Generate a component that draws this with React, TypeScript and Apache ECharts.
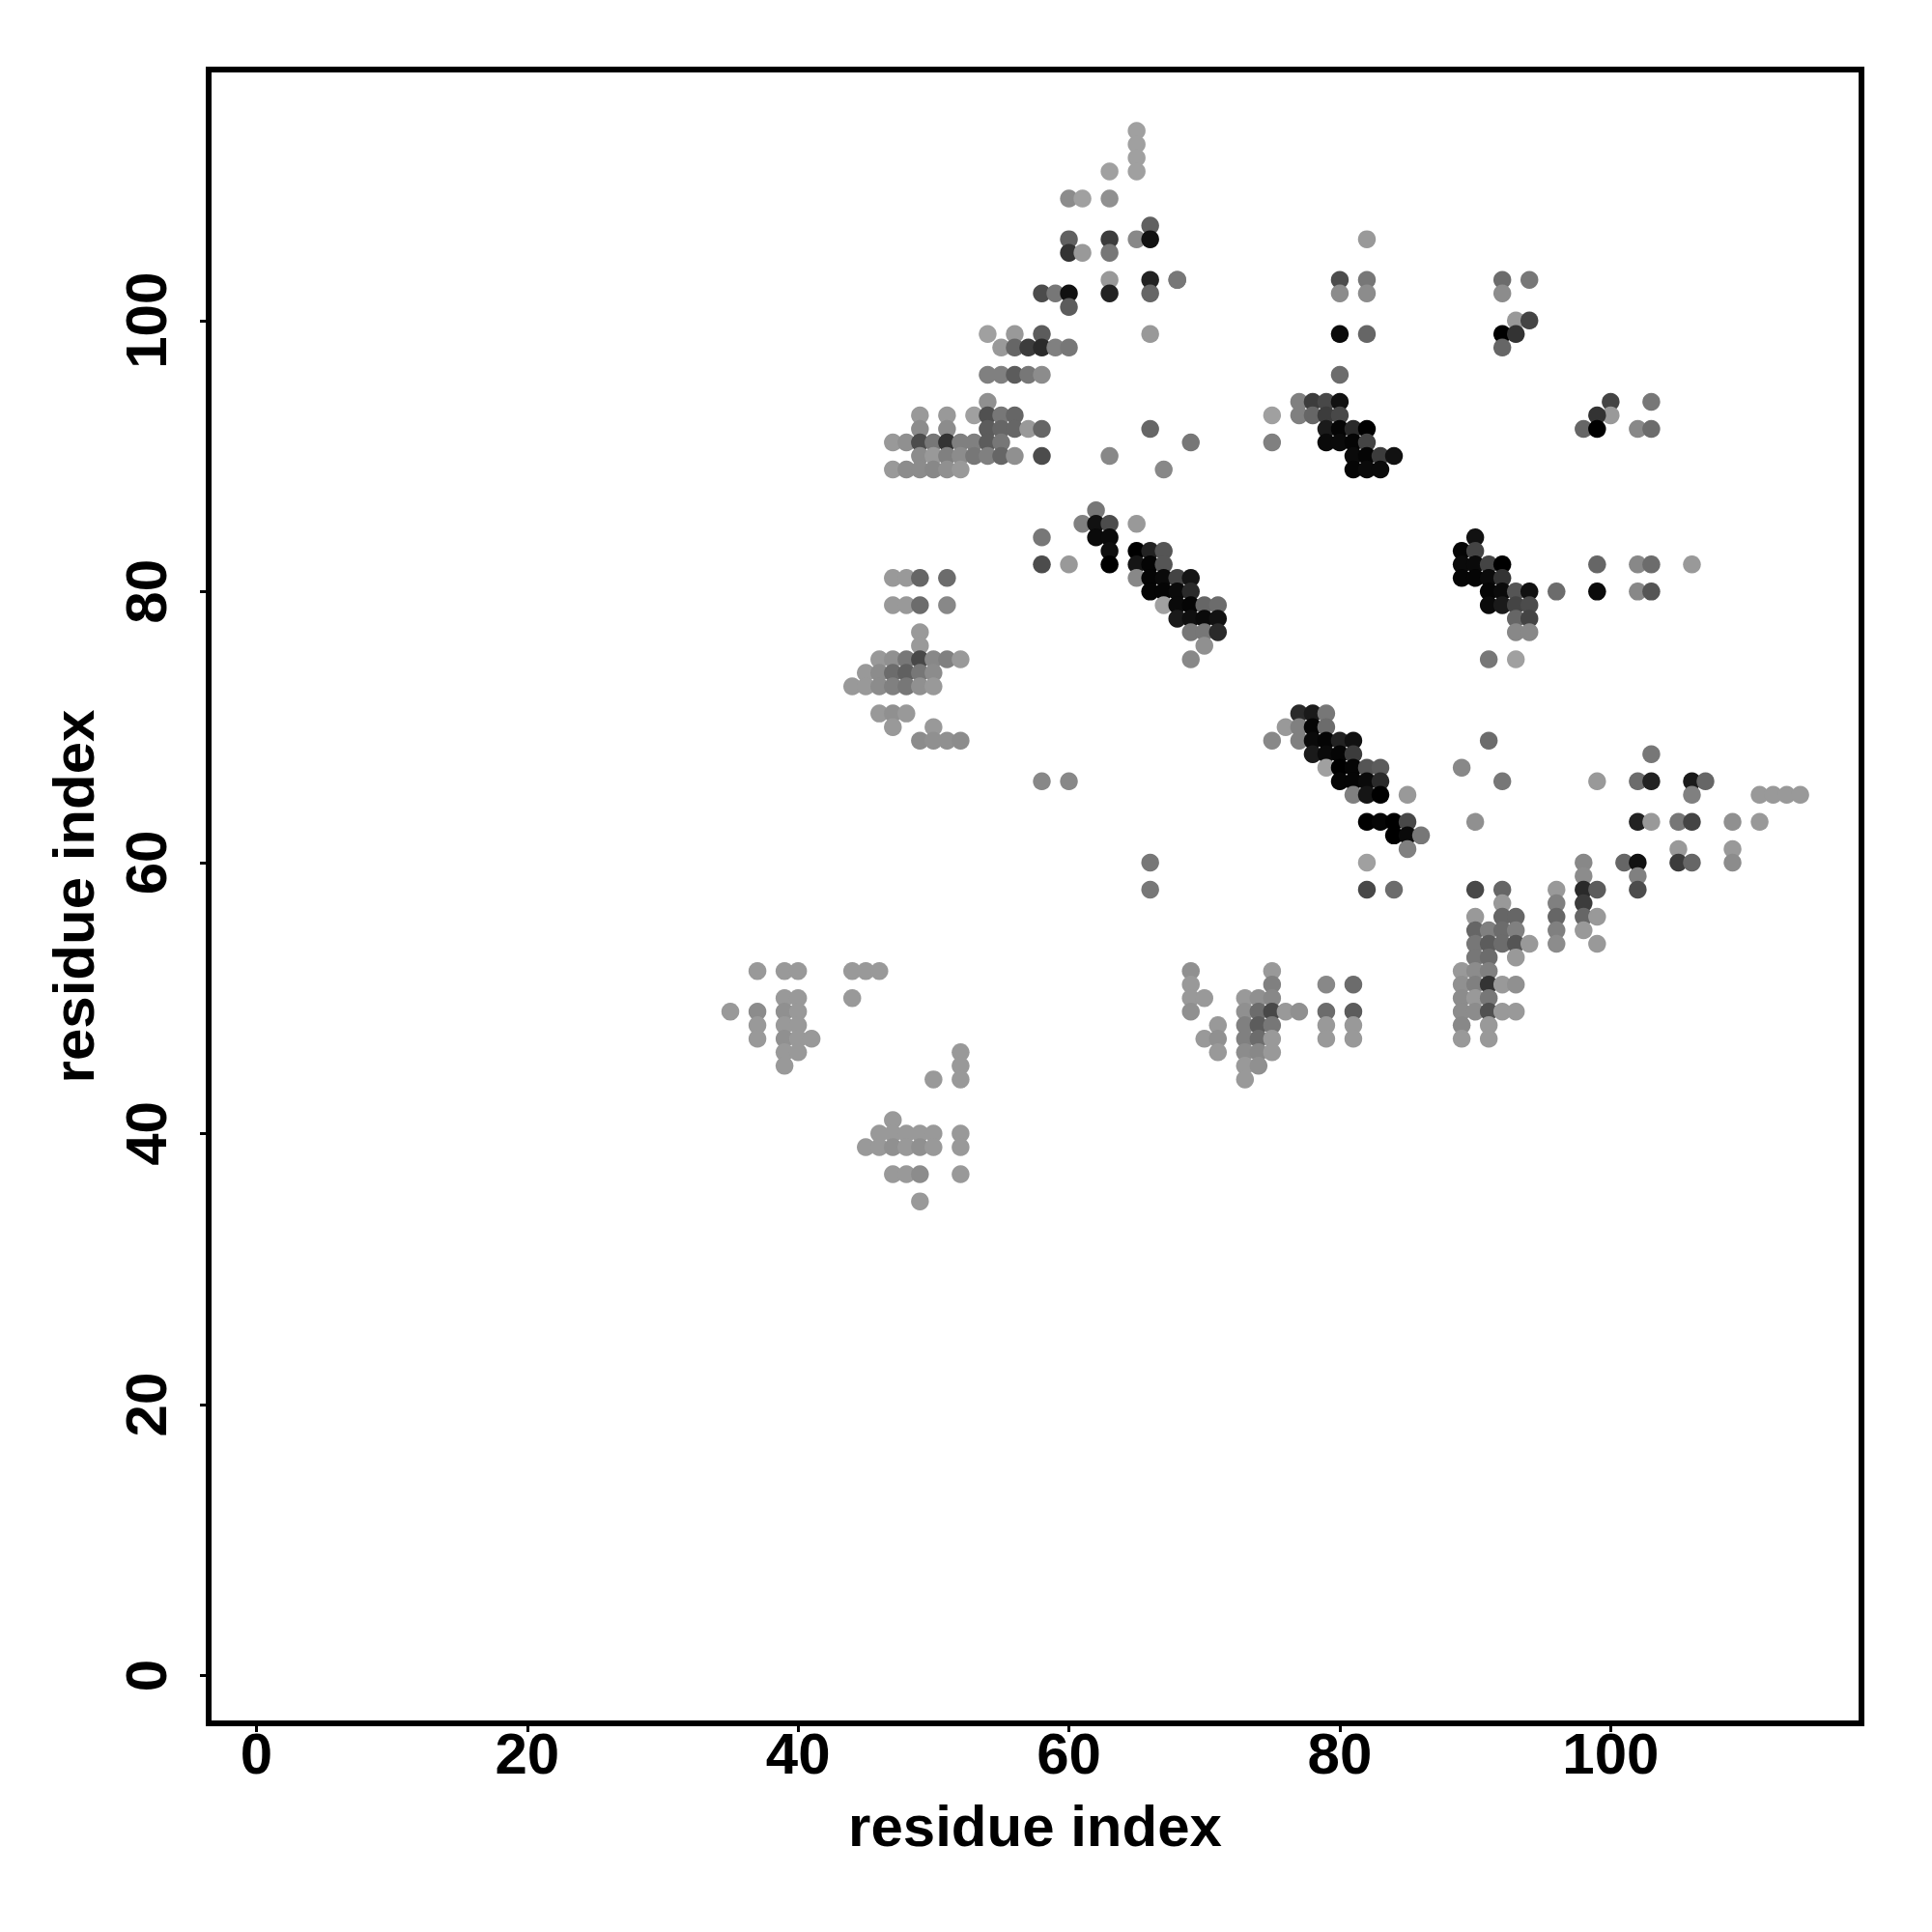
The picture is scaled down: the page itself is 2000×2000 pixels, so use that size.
import React, { useEffect, useRef } from "react";
import * as echarts from "echarts";

const xTicks = [0, 20, 40, 60, 80, 100];
const yTicks = [0, 20, 40, 60, 80, 100];
const axisTitle = "residue index";

// [x, y, grey level]
const upperLeft: number[][] = [
  [65,114,0xa0],[65,113,0xa0],[65,112,0xa0],[65,111,0xa0],[63,111,0xa0],
  [60,109,0x8c],[61,109,0xa0],[63,109,0x90],[66,107,0x60],
  [60,106,0x60],[63,106,0x3c],[65,106,0x88],[66,106,0x11],
  [60,105,0x33],[61,105,0x99],[63,105,0x77],
  [63,103,0x99],[66,103,0x22],[68,103,0x77],
  [58,102,0x4c],[59,102,0x77],[60,102,0x11],[63,102,0x22],[66,102,0x66],[60,101,0x5c],
  [54,99,0xa0],[56,99,0x99],[58,99,0x5c],[66,99,0x99],
  [55,98,0x99],[56,98,0x66],[57,98,0x3c],[58,98,0x2a],[59,98,0x80],[60,98,0x77],
  [54,96,0x80],[55,96,0x80],[56,96,0x5c],[57,96,0x77],[58,96,0x8c],[54,94,0x90],
  [49,93,0x99],[51,93,0x99],[53,93,0xa0],[54,93,0x50],[55,93,0x77],[56,93,0x66],
  [49,92,0x8c],[51,92,0x8c],[54,92,0x5c],[55,92,0x66],[56,92,0x66],[57,92,0x99],[58,92,0x66],[66,92,0x66],
  [47,91,0x99],[48,91,0x90],[49,91,0x4c],[50,91,0x77],[51,91,0x33],[52,91,0x80],[53,91,0x80],[54,91,0x5c],[55,91,0x77],
  [49,90,0x8c],[50,90,0x99],[51,90,0x80],[52,90,0x8c],[53,90,0x77],[54,90,0x80],[55,90,0x66],[56,90,0x90],[58,90,0x4c],[63,90,0x88],
  [47,89,0x99],[48,89,0x8c],[49,89,0x8c],[50,89,0x88],[51,89,0x90],[52,89,0x99],[67,89,0x88],[69,91,0x77],[68,103,0x77],
];

const upperRight: number[][] = [
  [82,106,0x99],[80,103,0x4c],[82,103,0x77],[92,103,0x6c],[94,103,0x77],
  [80,102,0x8c],[82,102,0x8c],[92,102,0x8c],[93,100,0x99],[94,100,0x44],
  [80,99,0x0a],[82,99,0x66],[92,99,0x00],[93,99,0x33],[92,98,0x66],[80,96,0x6c],
  [77,94,0x80],[78,94,0x3c],[79,94,0x48],[80,94,0x11],[100,94,0x44],[103,94,0x77],
  [75,93,0xa0],[77,93,0x80],[78,93,0x66],[79,93,0x3c],[80,93,0x48],[100,93,0x99],[99,93,0x33],
  [98,92,0x66],[99,92,0x00],[102,92,0x88],[103,92,0x6c],[79,92,0x1a],[80,92,0x05],[81,92,0x2a],[82,92,0x00],
  [75,91,0x80],[79,91,0x0a],[80,91,0x0a],[81,91,0x05],[82,91,0x44],
  [81,90,0x0a],[82,90,0x05],[83,90,0x3c],[84,90,0x11],[81,89,0x05],[82,89,0x0a],[83,89,0x0a],
];

const middleLeft: number[][] = [
  [47,81,0x99],[48,81,0x99],[49,81,0x66],[51,81,0x6c],
  [47,79,0x99],[48,79,0x99],[49,79,0x6c],[51,79,0x88],
  [49,77,0x99],[49,76,0x99],
  [46,75,0x99],[47,75,0x90],[48,75,0x77],[49,75,0x48],[50,75,0x88],[51,75,0x80],[52,75,0x99],
  [45,74,0x99],[46,74,0x8c],[47,74,0x6c],[48,74,0x60],[49,74,0x77],[50,74,0x8c],
  [44,73,0x99],[45,73,0x99],[46,73,0x8c],[47,73,0x80],[48,73,0x77],[49,73,0x90],[50,73,0x99],
  [46,71,0x99],[47,71,0x90],[48,71,0x99],[47,70,0x99],[50,70,0x99],
  [49,69,0x8c],[50,69,0x90],[51,69,0x90],[52,69,0x8c],[58,66,0x88],[60,66,0x88],
  [66,60,0x77],[66,58,0x77],
];

const middleDiagonal: number[][] = [
  [62,86,0x77],[61,85,0x80],[62,85,0x11],[63,85,0x4c],[65,85,0x99],
  [58,84,0x77],[62,84,0x0a],[63,84,0x0a],
  [63,83,0x0f],[65,83,0x00],[66,83,0x22],[67,83,0x55],
  [58,82,0x4c],[60,82,0x99],[63,82,0x00],[65,82,0x15],[66,82,0x05],[67,82,0x55],
  [65,81,0x88],[66,81,0x05],[67,81,0x0a],[68,81,0x44],[69,81,0x15],
  [66,80,0x05],[67,80,0x05],[68,80,0x0a],[69,80,0x2a],
  [67,79,0xa0],[68,79,0x0a],[69,79,0x05],[70,79,0x66],[71,79,0x6c],
  [68,78,0x1a],[69,78,0x0f],[70,78,0x0a],[71,78,0x11],
  [69,77,0x77],[70,77,0x77],[71,77,0x2a],[70,76,0x90],[69,75,0x88],
];

const middleRight: number[][] = [
  [90,84,0x11],[89,83,0x05],[90,83,0x44],
  [89,82,0x0a],[90,82,0x0a],[91,82,0x44],[92,82,0x00],[99,82,0x66],[102,82,0x88],[103,82,0x6c],[106,82,0x99],
  [89,81,0x05],[90,81,0x05],[91,81,0x0a],[92,81,0x33],
  [91,80,0x05],[92,80,0x0a],[93,80,0x55],[94,80,0x11],[96,80,0x6c],[99,80,0x0a],[102,80,0x88],[103,80,0x55],
  [91,79,0x0a],[92,79,0x1a],[93,79,0x44],[94,79,0x4c],
  [93,78,0x66],[94,78,0x44],[93,77,0x88],[94,77,0x88],[91,75,0x77],[93,75,0xa0],
];

const lowerDiagonal: number[][] = [
  [77,71,0x2a],[78,71,0x1a],[79,71,0x77],
  [76,70,0x99],[77,70,0x80],[78,70,0x05],[79,70,0x6c],
  [75,69,0x88],[77,69,0x80],[78,69,0x0a],[79,69,0x05],[80,69,0x22],[81,69,0x11],[91,69,0x6c],
  [78,68,0x1a],[79,68,0x0a],[80,68,0x05],[81,68,0x3c],[103,68,0x77],
  [79,67,0xa0],[80,67,0x00],[81,67,0x05],[82,67,0x55],[83,67,0x5c],[89,67,0x88],
  [80,66,0x05],[81,66,0x05],[82,66,0x0a],[83,66,0x2a],[92,66,0x77],[99,66,0x99],[102,66,0x6c],[103,66,0x22],[106,66,0x1a],[107,66,0x66],
  [81,65,0x80],[82,65,0x15],[83,65,0x00],[85,65,0x99],[106,65,0x80],[111,65,0x99],[112,65,0x99],[113,65,0x99],[114,65,0x99],
  [82,63,0x00],[83,63,0x05],[84,63,0x00],[85,63,0x48],[90,63,0x90],[102,63,0x22],[103,63,0x99],[105,63,0x77],[106,63,0x44],[109,63,0x90],[111,63,0x99],
  [84,62,0x00],[85,62,0x0a],[86,62,0x77],[85,61,0x80],[105,61,0x99],[109,61,0x99],
  [82,60,0xa0],[98,60,0x88],[101,60,0x66],[102,60,0x11],[105,60,0x3c],[106,60,0x66],[109,60,0x8c],
  [98,59,0x8c],[102,59,0x80],
  [82,58,0x48],[84,58,0x6c],[90,58,0x48],[92,58,0x66],[96,58,0x99],[98,58,0x2a],[99,58,0x5c],[102,58,0x4c],
];

const lowerRight: number[][] = [
  [92,57,0x99],[96,57,0x80],[98,57,0x3c],
  [90,56,0x99],[92,56,0x66],[93,56,0x66],[96,56,0x66],[98,56,0x66],[99,56,0x99],
  [90,55,0x66],[91,55,0x80],[92,55,0x6c],[93,55,0x80],[96,55,0x80],[98,55,0x99],
  [90,54,0x77],[91,54,0x5c],[92,54,0x6c],[93,54,0x55],[94,54,0x99],[96,54,0x8c],[99,54,0x99],
  [90,53,0x77],[91,53,0x6c],[93,53,0x99],
  [69,52,0x90],[75,52,0x99],[89,52,0x99],[90,52,0x8c],[91,52,0x80],
  [69,51,0x99],[75,51,0x80],[79,51,0x88],[81,51,0x6c],[89,51,0x90],[90,51,0x80],[91,51,0x33],[92,51,0x99],[93,51,0x90],
  [69,50,0x99],[70,50,0x99],[73,50,0x99],[74,50,0x90],[75,50,0x88],[89,50,0x8c],[90,50,0x99],[91,50,0x77],
  [69,49,0x90],[73,49,0x90],[74,49,0x6c],[75,49,0x48],[76,49,0x99],[77,49,0x90],[79,49,0x6c],[81,49,0x5c],[89,49,0x8c],[90,49,0x8c],[91,49,0x50],[92,49,0x99],[93,49,0x99],
  [71,48,0x99],[73,48,0x80],[74,48,0x5c],[75,48,0x77],[79,48,0x99],[81,48,0x99],[89,48,0x88],[91,48,0x99],
  [70,47,0x99],[71,47,0x90],[73,47,0x80],[74,47,0x6c],[75,47,0x99],[79,47,0x99],[81,47,0x99],[89,47,0x99],[91,47,0x99],
  [71,46,0x99],[73,46,0x8c],[74,46,0x88],[75,46,0x99],[73,45,0x99],[74,45,0x90],[73,44,0x99],
];

const lowerLeft: number[][] = [
  [37,52,0x99],[39,52,0x99],[40,52,0x99],[44,52,0x99],[45,52,0x99],[46,52,0x99],
  [39,50,0x99],[40,50,0x99],[44,50,0x99],
  [35,49,0x99],[37,49,0x8c],[39,49,0x90],[40,49,0x99],
  [37,48,0x99],[39,48,0x99],[40,48,0x99],
  [37,47,0x99],[39,47,0x90],[40,47,0x99],[41,47,0x99],
  [39,46,0x99],[40,46,0x99],[39,45,0x99],
  [52,46,0x99],[52,45,0x99],[50,44,0x99],[52,44,0x99],
  [47,41,0x99],[46,40,0x99],[47,40,0x99],[48,40,0x99],[49,40,0x99],[50,40,0x99],[52,40,0x99],
  [45,39,0x99],[46,39,0x99],[47,39,0x90],[48,39,0x99],[49,39,0x90],[50,39,0x99],[52,39,0x99],
  [47,37,0x99],[48,37,0x99],[49,37,0x8c],[52,37,0x99],[49,35,0x99],
];

const points = [
  ...upperLeft, ...upperRight, ...middleLeft, ...middleDiagonal,
  ...middleRight, ...lowerDiagonal, ...lowerRight, ...lowerLeft,
];

const fontFamily = "Liberation Sans";

function makeAxis(ticks: number[], rotate: number, margin: number, nameGap: number) {
  return {
    type: "value",
    min: -3.52,
    max: 118.52,
    name: axisTitle,
    nameLocation: "middle",
    nameGap,
    nameTextStyle: { fontFamily, fontSize: 60, fontWeight: "bold", color: "#000" },
    splitLine: { show: false },
    axisLine: { show: false, onZero: false },
    axisTick: {
      show: true,
      customValues: ticks,
      length: 9,
      lineStyle: { color: "#000", width: 3 },
    },
    axisLabel: {
      show: true,
      customValues: ticks,
      rotate,
      margin,
      fontFamily,
      fontSize: 60,
      fontWeight: "bold",
      color: "#000",
      showMinLabel: true,
      showMaxLabel: true,
    },
  };
}

export default function App() {
  const ref = useRef<HTMLDivElement>(null);
  useEffect(() => {
    const chart = echarts.init(ref.current!, null, { renderer: "svg" });
    chart.setOption({
      animation: false,
      backgroundColor: "#fff",
      grid: {
        left: 216,
        top: 72,
        width: 1711,
        height: 1712,
        show: true,
        borderColor: "#000",
        borderWidth: 6,
        backgroundColor: "transparent",
      },
      xAxis: makeAxis(xTicks, 0, 1, 76),
      yAxis: makeAxis(yTicks, 90, 35, 110),
      series: [
        {
          type: "scatter",
          symbol: "circle",
          symbolSize: 18.5,
          itemStyle: { opacity: 1 },
          data: points.map(([x, y, g]) => ({
            value: [x, y],
            itemStyle: { color: `rgb(${g},${g},${g})`, opacity: 1 },
          })),
        },
      ],
    });
    return () => chart.dispose();
  }, []);
  return (
    <div
      ref={ref}
      style={{ position: "absolute", left: 0, top: 0, width: 2000, height: 2000 }}
    />
  );
}
